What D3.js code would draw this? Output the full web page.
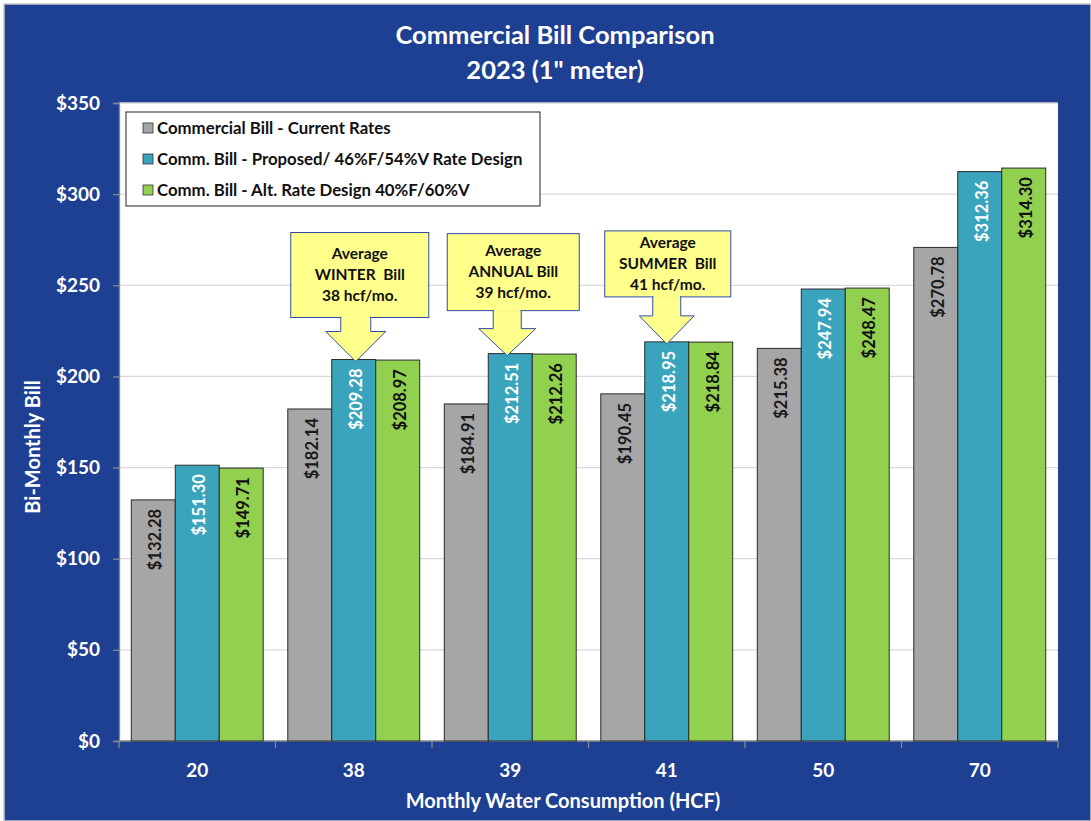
<!DOCTYPE html>
<html>
<head>
<meta charset="utf-8">
<script src="https://cdn.jsdelivr.net/npm/d3@7"></script>
<style>
  html, body { margin: 0; padding: 0; background: #fff; }
  svg { display: block; }
  text { font-family: Lato, "Open Sans", sans-serif; font-weight: bold; }
</style>
</head>
<body>
<script>
// Consumption levels (HCF) on the x axis
const categories = ["20", "38", "39", "41", "50", "70"];

// Bi-monthly bill for each rate scenario
const seriesNames = [
  "Commercial Bill - Current Rates",
  "Comm. Bill - Proposed/ 46%F/54%V Rate Design",
  "Comm. Bill - Alt. Rate Design 40%F/60%V"
];
const currentRates  = [132.28, 182.14, 184.91, 190.45, 215.38, 270.78];
const proposedRates = [151.30, 209.28, 212.51, 218.95, 247.94, 312.36];
const altRates      = [149.71, 208.97, 212.26, 218.84, 248.47, 314.30];

const yTicks = [0, 50, 100, 150, 200, 250, 300, 350];

// Callouts pointing at the proposed-rate bar of a category
const callouts = [
  { category: "38", lines: ["Average", "WINTER  Bill", "38 hcf/mo."] },
  { category: "39", lines: ["Average", "ANNUAL Bill", "39 hcf/mo."] },
  { category: "41", lines: ["Average", "SUMMER  Bill", "41 hcf/mo."] }
];

const colors = ["#A6A6A6", "#3AA4BD", "#92D050"];
const labelColors = ["#1a1a1a", "#ffffff", "#111111"];
const seriesValues = [currentRates, proposedRates, altRates];

const W = 1091, H = 821;
const plot = { left: 119, right: 1058, top: 103, bottom: 741 };

const svg = d3.select("body").append("svg").attr("width", W).attr("height", H);

// page background
svg.append("rect").attr("x", 4).attr("y", 4).attr("width", W - 4).attr("height", H - 4)
  .attr("fill", "#1E4093").attr("stroke", "#C8C8C8").attr("stroke-width", 1.5);

// plot area
svg.append("rect").attr("x", plot.left).attr("y", plot.top)
  .attr("width", plot.right - plot.left).attr("height", plot.bottom - plot.top)
  .attr("fill", "#ffffff");

const x0 = d3.scaleBand().domain(categories).range([plot.left, plot.right])
  .paddingInner(0.157).paddingOuter(0.0785);
const x1 = d3.scaleBand().domain(d3.range(3)).range([0, x0.bandwidth()]);
const y = d3.scaleLinear().domain([0, 350]).range([plot.bottom, plot.top]);

// gridlines
svg.append("g").selectAll("line").data(yTicks.filter(d => d > 0)).join("line")
  .attr("x1", plot.left).attr("x2", plot.right)
  .attr("y1", d => y(d)).attr("y2", d => y(d))
  .attr("stroke", "#D9D9D9").attr("stroke-width", 1.3);

// y axis
const yAxis = svg.append("g").attr("transform", `translate(${plot.left},0)`)
  .call(d3.axisLeft(y).tickValues(yTicks).tickFormat(d => "$" + d).tickSize(6).tickPadding(13));
yAxis.select(".domain").attr("stroke", "#888").attr("stroke-width", 1.3);
yAxis.selectAll(".tick line").attr("stroke", "#888").attr("stroke-width", 1.3);
yAxis.selectAll(".tick text").attr("fill", "#fff").style("font-size", "19px")
  .style("font-family", "Lato, sans-serif").style("font-weight", "bold");

// x axis with ticks at category boundaries
const xAxisG = svg.append("g");
xAxisG.append("line").attr("x1", plot.left).attr("x2", plot.right)
  .attr("y1", plot.bottom).attr("y2", plot.bottom).attr("stroke", "#888").attr("stroke-width", 1.5);
const boundaries = d3.range(categories.length + 1).map(i => plot.left + i * (plot.right - plot.left) / categories.length);
xAxisG.selectAll(".bt").data(boundaries).join("line")
  .attr("x1", d => d).attr("x2", d => d).attr("y1", plot.bottom).attr("y2", plot.bottom + 7)
  .attr("stroke", "#888").attr("stroke-width", 1.3);
xAxisG.selectAll(".cl").data(categories).join("text")
  .attr("x", d => x0(d) + x0.bandwidth() / 2).attr("y", 777)
  .attr("text-anchor", "middle").attr("fill", "#fff").style("font-size", "19px").text(d => d);

// bars
const groups = svg.append("g").selectAll("g").data(categories).join("g")
  .attr("transform", d => `translate(${x0(d)},0)`);
groups.selectAll("rect").data((d, i) => seriesValues.map((s, k) => ({ k, v: s[i] }))).join("rect")
  .attr("x", d => x1(d.k)).attr("width", x1.bandwidth())
  .attr("y", d => y(d.v)).attr("height", d => plot.bottom - y(d.v))
  .attr("fill", d => colors[d.k]).attr("stroke", "#2b2b2b").attr("stroke-width", 1);

// value labels, rotated, inside top of bar
groups.selectAll("text").data((d, i) => seriesValues.map((s, k) => ({ k, v: s[i] }))).join("text")
  .attr("transform", d => `translate(${x1(d.k) + x1.bandwidth() / 2 + 8},${y(d.v) + 9}) rotate(-90)`)
  .attr("text-anchor", "end").attr("fill", d => labelColors[d.k])
  .style("font-size", "16.5px").style("font-weight", "bold")
  .text(d => "$" + d.v.toFixed(2));

// titles
svg.append("text").attr("x", 555).attr("y", 44).attr("text-anchor", "middle")
  .attr("fill", "#fff").style("font-size", "25.5px").text("Commercial Bill Comparison");
svg.append("text").attr("x", 555).attr("y", 79).attr("text-anchor", "middle")
  .attr("fill", "#fff").style("font-size", "25.5px").text("2023 (1\" meter)");
svg.append("text").attr("x", 563).attr("y", 808).attr("text-anchor", "middle")
  .attr("fill", "#fff").style("font-size", "20px").text("Monthly Water Consumption (HCF)");
svg.append("text").attr("transform", "translate(40,447) rotate(-90)").attr("text-anchor", "middle")
  .attr("fill", "#fff").style("font-size", "20px").text("Bi-Monthly Bill");

// legend
const legend = svg.append("g");
legend.append("rect").attr("x", 126).attr("y", 112).attr("width", 414).attr("height", 94)
  .attr("fill", "#fff").attr("stroke", "#222").attr("stroke-width", 1);
const li = legend.selectAll("g").data(seriesNames).join("g")
  .attr("transform", (d, i) => `translate(143,${128 + i * 31})`);
li.append("rect").attr("x", 0).attr("y", -5).attr("width", 10).attr("height", 10)
  .attr("fill", (d, i) => colors[i]).attr("stroke", "#333").attr("stroke-width", 0.8);
li.append("text").attr("x", 14).attr("y", 6).attr("fill", "#111")
  .style("font-size", "16.8px").text(d => d);

// callout boxes with down arrows
const boxSpecs = [
  { w: 138, h: 85, shaftW: 30, shaftH: 14, headW: 60, headH: 30, tipOff: 2, shift: 4 },
  { w: 132, h: 77, shaftW: 28, shaftH: 18, headW: 57, headH: 27, tipOff: -3, shift: 6 },
  { w: 126, h: 66, shaftW: 28, shaftH: 19, headW: 55, headH: 28, tipOff: 0, shift: 1 }
];
callouts.forEach((c, i) => {
  const s = boxSpecs[i];
  const idx = categories.indexOf(c.category);
  const tipX = x0(c.category) + x1(1) + x1.bandwidth() / 2 + s.tipOff;
  const tipY = y(proposedRates[idx]) + 2;
  const headTop = tipY - s.headH;
  const shaftTop = headTop - s.shaftH;
  const boxTop = shaftTop - s.h;
  const boxLeft = tipX - s.w / 2 + s.shift;
  const g = svg.append("g");
  g.append("rect").attr("x", boxLeft).attr("y", boxTop).attr("width", s.w).attr("height", s.h)
    .attr("fill", "#FFFF8C").attr("stroke", "#2F4FA5").attr("stroke-width", 1);
  const arrow = [
    [tipX - s.shaftW / 2, shaftTop], [tipX + s.shaftW / 2, shaftTop],
    [tipX + s.shaftW / 2, headTop], [tipX + s.headW / 2, headTop],
    [tipX, tipY], [tipX - s.headW / 2, headTop],
    [tipX - s.shaftW / 2, headTop]
  ];
  g.append("path").attr("d", "M" + arrow.map(p => p.join(",")).join("L") + "Z")
    .attr("fill", "#FFFF8C").attr("stroke", "#2F4FA5").attr("stroke-width", 1);
  // cover the seam between box and shaft
  g.append("line").attr("x1", tipX - s.shaftW / 2 + 0.8).attr("x2", tipX + s.shaftW / 2 - 0.8)
    .attr("y1", shaftTop).attr("y2", shaftTop).attr("stroke", "#FFFF8C").attr("stroke-width", 2);
  const lineH = 21;
  const firstY = boxTop + s.h / 2 - lineH + 5;
  g.selectAll("text").data(c.lines).join("text")
    .attr("x", boxLeft + s.w / 2).attr("y", (d, j) => firstY + j * lineH)
    .attr("text-anchor", "middle").attr("fill", "#111").style("font-size", "15.5px")
    .attr("xml:space", "preserve").text(d => d);
});
</script>
</body>
</html>
